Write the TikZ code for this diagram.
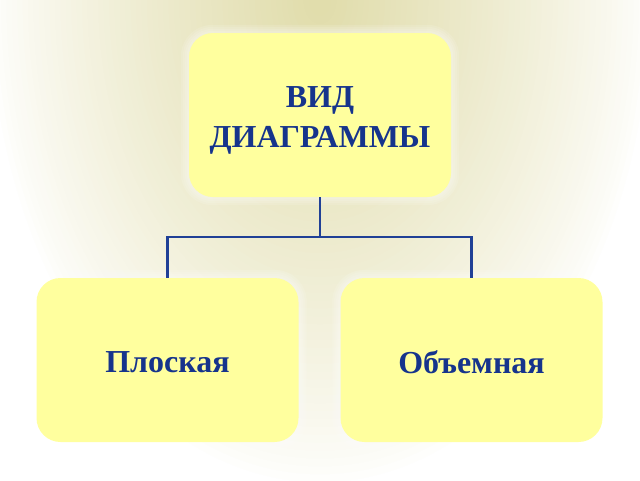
\documentclass[tikz,border=0pt]{standalone}
\usepackage{fontspec}
\setmainfont{Liberation Serif}
\usetikzlibrary{backgrounds,calc}
\definecolor{bgk}{RGB}{224,220,170}
\definecolor{boxy}{RGB}{255,255,158}
\definecolor{txtb}{RGB}{22,52,140}
\definecolor{linb}{RGB}{32,64,150}
\begin{document}
\begin{tikzpicture}[x=1pt,y=-1pt,
  box/.style={rectangle, rounded corners=24pt, fill=boxy, minimum width=262pt,
    minimum height=164pt, inner sep=0pt},
  lbl/.style={align=center, inner sep=0pt,
    font=\fontsize{32}{40}\selectfont\bfseries, text=txtb},
  conn/.style={draw=linb, line width=2.4pt},
  glow/.style={fill=white, opacity=0.12}]
\useasboundingbox (0,0) rectangle (640,480);
\node[box] (top) at (320,115) {};
\node[box] (left) at (167.5,360) {};
\node[box] (right) at (471.5,360) {};
\node[lbl] (topt) at ($(top)+(0,5)$) {ВИД\\ДИАГРАММЫ};
\node[lbl] (leftt) at ($(left)+(0,2)$) {Плоская};
\node[lbl] (rightt) at ($(right)+(0,2)$) {Объемная};
\coordinate (j) at ($(top.south)+(0,40)$);
\draw[conn] (top.south) -- (j);
\draw[conn] (left.north) |- (j) -| (right.north);
\begin{scope}[on background layer]
  \fill[white] (0,0) rectangle (640,480);
  \clip (0,0) rectangle (640,480);
  \foreach \i in {0,...,60} {
    \pgfmathsetmacro{\s}{1-\i/62}
    \pgfmathsetmacro{\p}{100*(1-\s)^0.8}
    \fill[bgk!\p!white] (320,0) ellipse [x radius=335*\s, y radius=490*\s];
  }
  \foreach \n in {top,left,right} {
    \foreach \k in {1,...,4} {
      \fill[glow, rounded corners=24pt+2pt*\k]
        ([shift={(-2pt*\k,-2pt*\k)}]\n.south west) rectangle
        ([shift={(2pt*\k,2pt*\k)}]\n.north east);
    }
  }
\end{scope}
\end{tikzpicture}
\end{document}
